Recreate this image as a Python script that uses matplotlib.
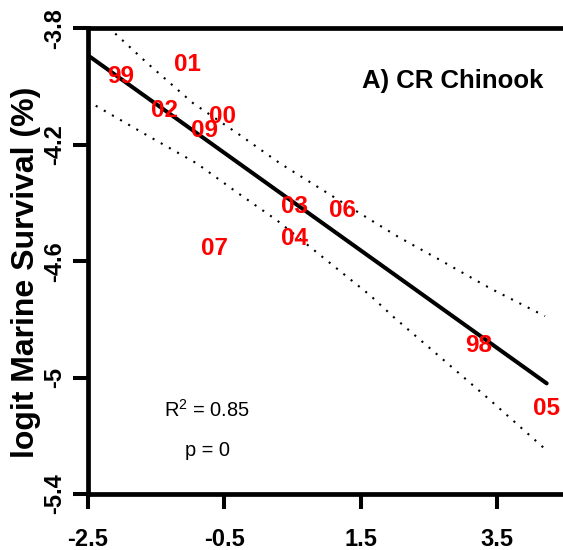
import matplotlib
matplotlib.use("Agg")
import matplotlib.pyplot as plt

plt.rcParams['font.family'] = ['Liberation Sans', 'DejaVu Sans']
plt.rcParams['mathtext.fontset'] = 'custom'
plt.rcParams['mathtext.rm'] = 'Liberation Sans'
plt.rcParams['mathtext.it'] = 'Liberation Sans:italic'
plt.rcParams['mathtext.bf'] = 'Liberation Sans:bold'

# ---- data ----
years = ["99", "01", "02", "00", "09", "07", "03", "04", "06", "98", "05"]
x_vals = [-2.021, -1.039, -1.378, -0.527, -0.790, -0.644, 0.527, 0.527, 1.231, 3.222, 4.226]
y_vals = [-3.958, -3.915, -4.073, -4.096, -4.143, -4.549, -4.403, -4.512, -4.417, -4.880, -5.096]

fit_x = [-2.5, 4.226]
fit_y = [-3.892, -5.020]

upper_x = [-2.5, -2.123, -1.630, -0.956, -0.267, 0.319, 0.905, 1.491, 2.047, 2.663, 3.395, 4.201]
upper_y = [-3.731, -3.812, -3.919, -4.057, -4.167, -4.264, -4.350, -4.436, -4.516, -4.596, -4.693, -4.789]
lower_x = [-2.5, -2.440, -1.634, -0.902, -0.292, 0.270, 0.758, 1.637, 1.978, 2.663, 3.395, 4.176]
lower_y = [-4.050, -4.058, -4.167, -4.264, -4.367, -4.459, -4.551, -4.717, -4.791, -4.929, -5.077, -5.240]

x_ticks = [-2.5, -0.5, 1.5, 3.5]
x_tick_labels = ["-2.5", "-0.5", "1.5", "3.5"]
y_ticks = [-3.8, -4.2, -4.6, -5.0, -5.4]
y_tick_labels = ["-3.8", "-4.2", "-4.6", "-5", "-5.4"]

title = "A) CR Chinook"
y_label = "logit Marine Survival (%)"
r2_text = r"$\mathregular{R^2}$ = 0.85"
p_text = "p = 0"

# ---- figure ----
fig = plt.figure(figsize=(5.63, 5.5), dpi=100)
ax = fig.add_axes([87.6 / 563, (550 - 494) / 550, (563 - 87.6) / 563, (494 - 28.3) / 550])
ax.set_xlim(-2.5, 4.465)
ax.set_ylim(-5.4, -3.8)

ax.plot(fit_x, fit_y, color='black', lw=2.9, solid_capstyle='round')
ax.plot(upper_x, upper_y, color='black', lw=1.5, linestyle=(0, (1.0, 3.5)))
ax.plot(lower_x, lower_y, color='black', lw=1.5, linestyle=(0, (1.0, 3.5)))

for yr, xv, yv in zip(years, x_vals, y_vals):
    ax.text(xv, yv, yr, color='#ff0000', fontsize=17.5, fontweight='bold',
            ha='center', va='center_baseline')

ax.text(2.846, -3.971, title, ha='center', va='center_baseline',
        fontsize=18.5, fontweight='bold')
ax.text(-0.748, -5.134, r2_text, ha='center', va='baseline', fontsize=14.4)
ax.text(-0.748, -5.270, p_text, ha='center', va='baseline', fontsize=14.4)

ax.spines['right'].set_visible(False)
for s in ['left', 'top', 'bottom']:
    ax.spines[s].set_linewidth(3.4)

ax.set_xticks(x_ticks)
ax.set_xticklabels(x_tick_labels)
ax.set_yticks(y_ticks)
ax.set_yticklabels(y_tick_labels)
ax.tick_params(direction='out', length=10.8, width=2.9, labelsize=17)
ax.tick_params(axis='x', pad=13.5)
ax.tick_params(axis='y', pad=5)
for lab in ax.get_xticklabels() + ax.get_yticklabels():
    lab.set_fontweight('bold')
for lab in ax.get_yticklabels():
    lab.set_rotation(90)
    lab.set_va('center')

fig.text(26 / 563, 1 - 272 / 550, y_label, rotation=90, ha='center', va='center',
         fontsize=23, fontweight='bold')

fig.savefig('out.png', dpi=100)
